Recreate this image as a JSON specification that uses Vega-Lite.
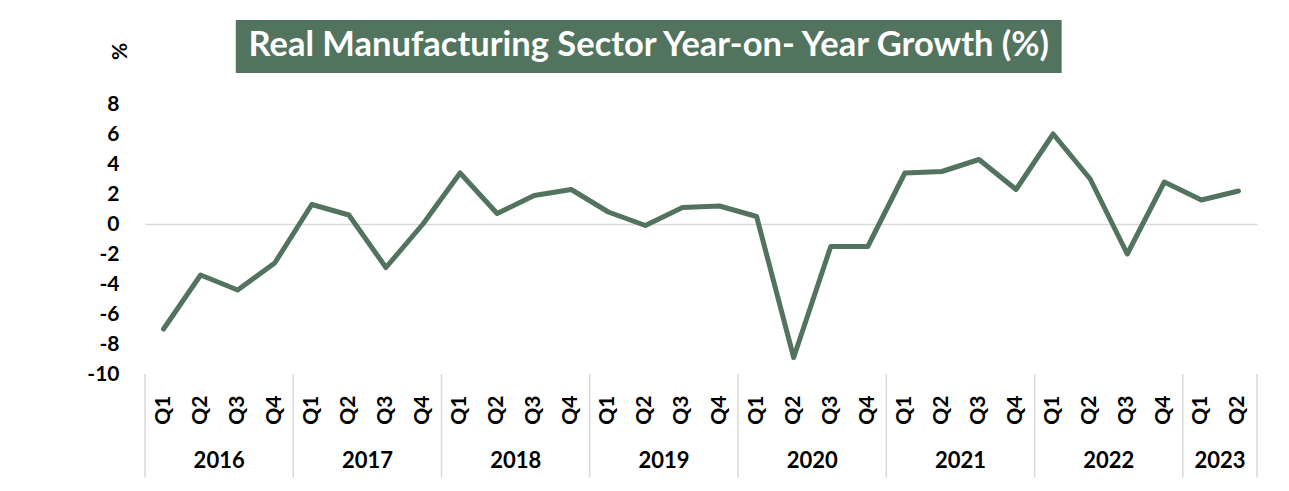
{
  "$schema": "https://vega.github.io/schema/vega-lite/v6.json",
  "autosize": "none",
  "width": 1112,
  "height": 270,
  "padding": {"left": 145, "top": 104, "right": 32, "bottom": 117},
  "background": "white",
  "config": {"view": {"stroke": null}, "font": "Lato"},
  "datasets": {
    "growth": [
      {"p": "2016 Q1", "year": "2016", "q": "Q1", "v": -7.0},
      {"p": "2016 Q2", "year": "2016", "q": "Q2", "v": -3.4},
      {"p": "2016 Q3", "year": "2016", "q": "Q3", "v": -4.4},
      {"p": "2016 Q4", "year": "2016", "q": "Q4", "v": -2.6},
      {"p": "2017 Q1", "year": "2017", "q": "Q1", "v": 1.3},
      {"p": "2017 Q2", "year": "2017", "q": "Q2", "v": 0.6},
      {"p": "2017 Q3", "year": "2017", "q": "Q3", "v": -2.9},
      {"p": "2017 Q4", "year": "2017", "q": "Q4", "v": 0.0},
      {"p": "2018 Q1", "year": "2018", "q": "Q1", "v": 3.4},
      {"p": "2018 Q2", "year": "2018", "q": "Q2", "v": 0.7},
      {"p": "2018 Q3", "year": "2018", "q": "Q3", "v": 1.9},
      {"p": "2018 Q4", "year": "2018", "q": "Q4", "v": 2.3},
      {"p": "2019 Q1", "year": "2019", "q": "Q1", "v": 0.8},
      {"p": "2019 Q2", "year": "2019", "q": "Q2", "v": -0.1},
      {"p": "2019 Q3", "year": "2019", "q": "Q3", "v": 1.1},
      {"p": "2019 Q4", "year": "2019", "q": "Q4", "v": 1.2},
      {"p": "2020 Q1", "year": "2020", "q": "Q1", "v": 0.5},
      {"p": "2020 Q2", "year": "2020", "q": "Q2", "v": -8.9},
      {"p": "2020 Q3", "year": "2020", "q": "Q3", "v": -1.5},
      {"p": "2020 Q4", "year": "2020", "q": "Q4", "v": -1.5},
      {"p": "2021 Q1", "year": "2021", "q": "Q1", "v": 3.4},
      {"p": "2021 Q2", "year": "2021", "q": "Q2", "v": 3.5},
      {"p": "2021 Q3", "year": "2021", "q": "Q3", "v": 4.3},
      {"p": "2021 Q4", "year": "2021", "q": "Q4", "v": 2.3},
      {"p": "2022 Q1", "year": "2022", "q": "Q1", "v": 6.0},
      {"p": "2022 Q2", "year": "2022", "q": "Q2", "v": 3.0},
      {"p": "2022 Q3", "year": "2022", "q": "Q3", "v": -2.0},
      {"p": "2022 Q4", "year": "2022", "q": "Q4", "v": 2.8},
      {"p": "2023 Q1", "year": "2023", "q": "Q1", "v": 1.6},
      {"p": "2023 Q2", "year": "2023", "q": "Q2", "v": 2.2}
    ],
    "titles": [
      {"t": "Real Manufacturing Sector Year-on- Year Growth (%)"}
    ]
  },
  "data": {"name": "growth"},
  "encoding": {
    "x": {
      "field": "p",
      "type": "ordinal",
      "sort": "ascending",
      "scale": {"type": "band", "paddingInner": 0, "paddingOuter": 0},
      "axis": {
        "title": null,
        "labelExpr": "slice(datum.value, 5)",
        "labelAngle": 270,
        "labelAlign": "right",
        "labelBaseline": "middle",
        "labelPadding": 21,
        "labelFontSize": 21,
        "labelFontWeight": "bold",
        "labelColor": "#000000",
        "ticks": false,
        "domain": false,
        "grid": false
      }
    }
  },
  "layer": [
    {
      "mark": {"type": "line", "color": "#52735E", "strokeWidth": 5, "strokeCap": "round", "strokeJoin": "round", "clip": false},
      "encoding": {
        "y": {
          "field": "v",
          "type": "quantitative",
          "scale": {"domain": [-10, 8], "nice": false, "zero": false},
          "axis": {
            "values": [-10, -8, -6, -4, -2, 0, 2, 4, 6, 8],
            "tickCount": 12,
            "labelExpr": "datum.value < 0 ? '-' + abs(datum.value) : '' + datum.value",
            "labelOverlap": false,
            "title": "%",
            "titleAngle": 270,
            "titleX": -25,
            "titleY": -53,
            "titleAlign": "center",
            "titleBaseline": "middle",
            "titleFontSize": 21,
            "titleFontWeight": "bold",
            "titleColor": "#000000",
            "labelFontSize": 21,
            "labelFontWeight": "bold",
            "labelColor": "#000000",
            "labelPadding": 26,
            "ticks": false,
            "domain": false,
            "grid": true,
            "gridColor": "#d9d9d9",
            "gridWidth": 1.5,
            "gridOpacity": {"condition": {"test": "datum.value === 0", "value": 1}, "value": 0}
          }
        }
      }
    },
    {
      "transform": [{"filter": "datum.q == 'Q1'"}],
      "mark": {"type": "rule", "color": "#d9d9d9", "strokeWidth": 1.5},
      "encoding": {
        "x": {"field": "p", "type": "ordinal", "sort": "ascending", "bandPosition": 0},
        "y": {"datum": -10},
        "y2": {"datum": -16.9}
      }
    },
    {
      "transform": [{"filter": "datum.p == '2023 Q2'"}],
      "mark": {"type": "rule", "color": "#d9d9d9", "strokeWidth": 1.5},
      "encoding": {
        "x": {"field": "p", "type": "ordinal", "sort": "ascending", "bandPosition": 1},
        "y": {"datum": -10},
        "y2": {"datum": -16.9}
      }
    },
    {
      "transform": [{"filter": "(datum.q == 'Q2' && datum.year != '2023') || datum.p == '2023 Q1'"}],
      "mark": {"type": "text", "fontSize": 22, "fontWeight": "bold", "color": "#000000", "baseline": "middle", "align": "center"},
      "encoding": {
        "x": {"field": "p", "type": "ordinal", "sort": "ascending", "bandPosition": 1},
        "y": {"datum": -15.8},
        "text": {"field": "year"}
      }
    },
    {
      "data": {"name": "titles"},
      "mark": {"type": "rect", "color": "#52735E"},
      "encoding": {
        "x": {"datum": "2016 Q3", "type": "ordinal", "bandPosition": 0.45},
        "x2": {"datum": "2022 Q1", "bandPosition": 0.73},
        "y": {"datum": 13.6},
        "y2": {"datum": 10.07}
      }
    },
    {
      "data": {"name": "titles"},
      "mark": {"type": "text", "fontSize": 34.5, "fontWeight": "bold", "color": "#ffffff", "baseline": "middle", "align": "center"},
      "encoding": {
        "x": {"datum": "2019 Q2", "type": "ordinal", "bandPosition": 0.59},
        "y": {"datum": 11.85},
        "text": {"field": "t"}
      }
    }
  ]
}
